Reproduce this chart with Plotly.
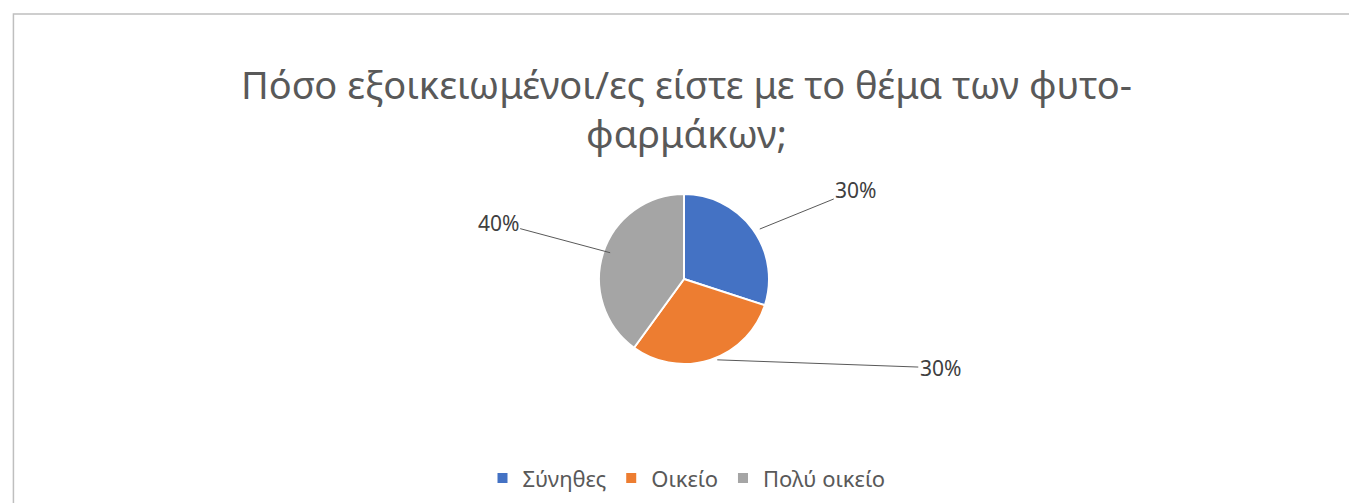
import math
import plotly.graph_objects as go

labels = ["Σύνηθες", "Οικείο", "Πολύ οικείο"]
values = [30, 30, 40]
colors = ["#4472C4", "#ED7D31", "#A5A5A5"]
# label offsets (px) from slice edge
offsets = [(96, -39), (223, 8), (-112, -30)]

W, H = 1357, 503
cx, cy, r = 683, 271, 85
shift = -7  # plotly places the pie slightly right of the domain centre

fig = go.Figure(go.Pie(
    labels=labels, values=values, sort=False, direction="clockwise", rotation=0,
    marker=dict(colors=colors, line=dict(color="white", width=2)),
    textinfo="none", hoverinfo="label+percent",
    domain=dict(x=[(cx + shift - r) / W, (cx + shift + r) / W],
                y=[1 - (cy + r) / H, 1 - (cy - r) / H]),
))

# leader-line labels
total = sum(values)
start = 90
for v, (ax, ay) in zip(values, offsets):
    mid = start - v / total * 180
    start -= v / total * 360
    px = cx + r * math.cos(math.radians(mid))
    py = cy - r * math.sin(math.radians(mid))
    fig.add_annotation(x=px / W, y=1 - py / H, xref="paper", yref="paper",
                       text=f"{round(v / total * 100)}%", showarrow=True, arrowhead=0,
                       arrowwidth=1, arrowcolor="#595959", ax=ax, ay=ay,
                       font=dict(size=21, color="#404040"))

fig.add_shape(type="rect", xref="paper", yref="paper", x0=0.004, y0=0.012, x1=0.994, y1=0.988,
              line=dict(color="#BFBFBF", width=1.5))

fig.update_layout(
    width=W, height=H, margin=dict(l=0, r=0, t=0, b=0),
    paper_bgcolor="white", font=dict(family="Noto Sans", color="#404040"),
    title=dict(text="Πόσο εξοικειωμένοι/ες είστε με το θέμα των φυτο-<br>φαρμάκων;",
               x=0.5, xanchor="center", y=0.82, yanchor="middle",
               font=dict(size=38, color="#595959")),
    legend=dict(orientation="h", x=0.5, xanchor="center", y=0.065, yanchor="middle",
                font=dict(size=22, color="#595959"), itemsizing="constant"),
)

fig.write_html("out.html")
